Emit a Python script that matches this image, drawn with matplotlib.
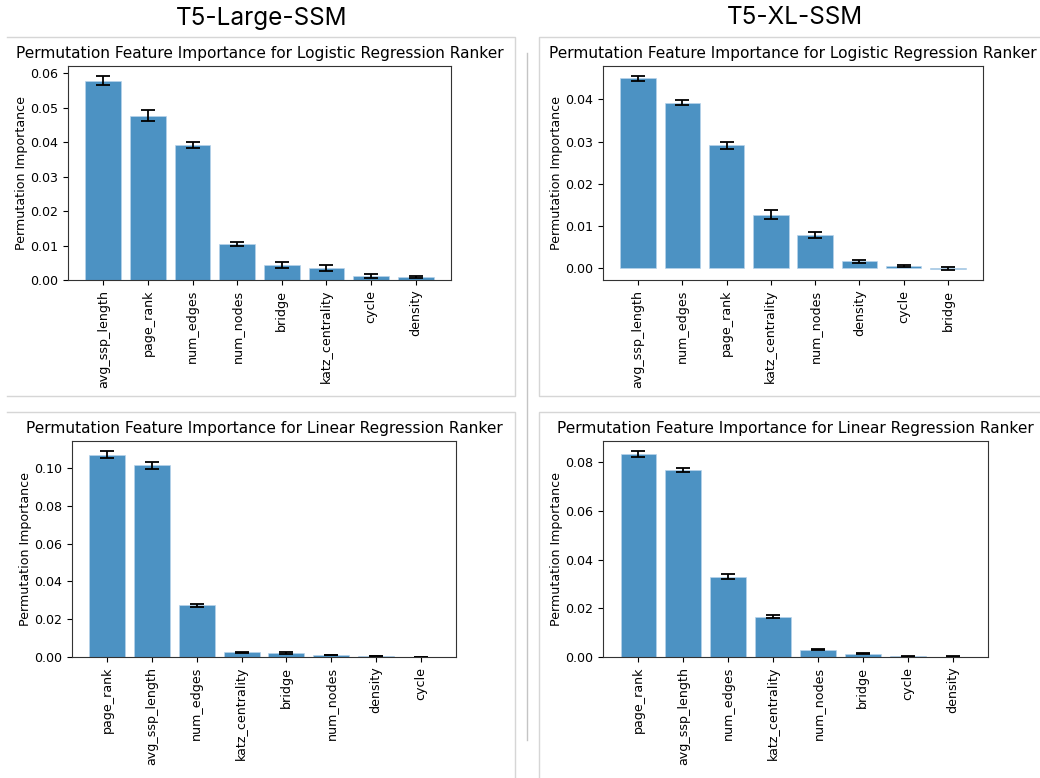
import matplotlib
matplotlib.use("Agg")
import matplotlib.pyplot as plt
from matplotlib.lines import Line2D

plt.rcParams['font.family'] = 'DejaVu Sans'

# T5-Large-SSM, logistic regression ranker
large_log_features = ["avg_ssp_length", "page_rank", "num_edges", "num_nodes",
                      "bridge", "katz_centrality", "cycle", "density"]
large_log_mean = [0.0578, 0.0476, 0.0391, 0.0104, 0.0044, 0.0035, 0.0011, 0.0009]
large_log_std = [0.0013, 0.0016, 0.0008, 0.0006, 0.0008, 0.0008, 0.0005, 0.0003]

# T5-XL-SSM, logistic regression ranker
xl_log_features = ["avg_ssp_length", "num_edges", "page_rank", "katz_centrality",
                   "num_nodes", "density", "cycle", "bridge"]
xl_log_mean = [0.0450, 0.0392, 0.0291, 0.0127, 0.0079, 0.0016, 0.0005, -0.0001]
xl_log_std = [0.0006, 0.0006, 0.0008, 0.0011, 0.0007, 0.0004, 0.0002, 0.0004]

# T5-Large-SSM, linear regression ranker
large_lin_features = ["page_rank", "avg_ssp_length", "num_edges", "katz_centrality",
                      "bridge", "num_nodes", "density", "cycle"]
large_lin_mean = [0.1070, 0.1013, 0.0274, 0.0024, 0.0021, 0.0011, 0.0005, 0.0001]
large_lin_std = [0.0018, 0.0017, 0.0007, 0.0003, 0.0003, 0.0002, 0.0002, 0.0001]

# T5-XL-SSM, linear regression ranker
xl_lin_features = ["page_rank", "avg_ssp_length", "num_edges", "katz_centrality",
                   "num_nodes", "bridge", "cycle", "density"]
xl_lin_mean = [0.0834, 0.0768, 0.0331, 0.0165, 0.0030, 0.0014, 0.0003, 0.0002]
xl_lin_std = [0.0012, 0.0008, 0.0009, 0.0006, 0.0002, 0.0002, 0.0001, 0.0001]

W, H = 1040, 778
fig = plt.figure(figsize=(W / 100, H / 100), dpi=100)


def px_axes(x0, y0, x1, y1):
    return fig.add_axes([x0 / W, 1 - y1 / H, (x1 - x0) / W, (y1 - y0) / H])


def px_line(xs, ys, color="#d6d6d6", lw=1.0):
    fig.add_artist(Line2D([x / W for x in xs], [1 - y / H for y in ys],
                          transform=fig.transFigure, color=color, lw=lw))


def importance_plot(ax, features, mean, std, title):
    ax.bar(features, mean, yerr=std, capsize=4.7, alpha=0.8, color="C0",
           edgecolor="#b8d3ea", linewidth=0.6,
           error_kw=dict(elinewidth=1.3, capthick=1.3))
    ax.set_title(title, fontsize=11.1)
    ax.set_ylabel("Permutation Importance", fontsize=9.1, labelpad=1.5)
    ax.tick_params(labelsize=9.1)
    ax.tick_params(axis="x", rotation=90)
    for s in ax.spines.values():
        s.set_color("#333333")


# panel frames
px_line([7, 515, 515, 7], [37, 37, 396, 396])
px_line([1040, 539, 539, 1040], [37, 37, 396, 396])
px_line([7, 515, 515], [412, 412, 778])
px_line([1040, 539, 539], [412, 412, 778])
px_line([527, 527], [53, 740], color="#c4c4c4")

fig.text(262 / W, 1 - 18 / H, "T5-Large-SSM", ha="center", va="center",
         fontsize=17.5, family="Inter")
fig.text(795 / W, 1 - 18 / H, "T5-XL-SSM", ha="center", va="center",
         fontsize=17.5, family="Inter")

ax1 = px_axes(68, 66, 451, 280)
importance_plot(ax1, large_log_features, large_log_mean, large_log_std,
                "Permutation Feature Importance for Logistic Regression Ranker")

ax2 = px_axes(603, 66, 983, 280)
importance_plot(ax2, xl_log_features, xl_log_mean, xl_log_std,
                "Permutation Feature Importance for Logistic Regression Ranker")

ax3 = px_axes(72, 441, 456, 657)
importance_plot(ax3, large_lin_features, large_lin_mean, large_lin_std,
                "Permutation Feature Importance for Linear Regression Ranker")

ax4 = px_axes(603, 441, 988, 657)
importance_plot(ax4, xl_lin_features, xl_lin_mean, xl_lin_std,
                "Permutation Feature Importance for Linear Regression Ranker")

fig.savefig("out.png", dpi=100)
